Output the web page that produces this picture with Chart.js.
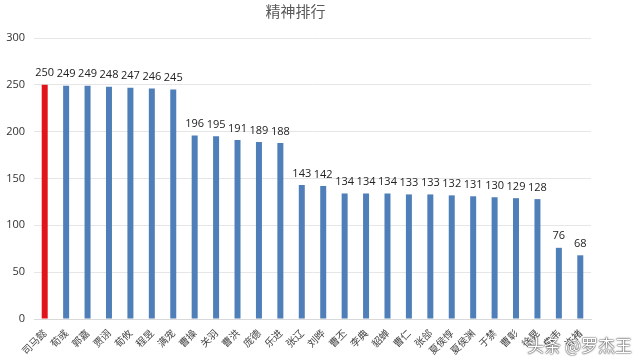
<!DOCTYPE html>
<html>
<head>
<meta charset="utf-8">
<script src="https://cdn.jsdelivr.net/npm/chart.js@4/dist/chart.umd.min.js"></script>
<style>
  html, body { margin: 0; padding: 0; background: #fff; }
  #wrap { position: relative; width: 640px; height: 362px; }
  #mark { position: absolute; right: 8px; bottom: 5px; font: 17px "Noto Sans CJK SC", sans-serif; color: #fff;
          text-shadow: 0 0 2px #333, 0 0 1px #000; }
</style>
</head>
<body>
<div id="wrap">
  <canvas id="chart" width="640" height="362"></canvas>
  <div id="mark">头条 @罗杰王</div>
</div>
<script>
// names and scores
var names = ['司马懿', '荀彧', '郭嘉', '贾诩', '荀攸', '程昱', '满宠', '曹操', '关羽', '曹洪',
             '庞德', '乐进', '张辽', '刘晔', '曹丕', '李典', '貂蝉', '曹仁', '张郃', '夏侯惇',
             '夏侯渊', '于禁', '曹彰', '徐晃', '典韦', '许褚'];
var scores = [250, 249, 249, 248, 247, 246, 245, 196, 195, 191,
              189, 188, 143, 142, 134, 134, 134, 133, 133, 132,
              131, 130, 129, 128, 76, 68];
var yTicks = [0, 50, 100, 150, 200, 250, 300];

var barColors = scores.map(function (v, i) {
    return i === 0 ? '#e3131b' : '#4f7fb8';
});

// value labels above each bar
var valueLabels = {
    id: 'valueLabels',
    afterDatasetsDraw: function (chart) {
        var ctx = chart.ctx;
        var meta = chart.getDatasetMeta(0);
        ctx.save();
        ctx.font = '11px "Open Sans", sans-serif';
        ctx.fillStyle = '#222';
        ctx.textAlign = 'center';
        ctx.textBaseline = 'bottom';
        meta.data.forEach(function (bar, i) {
            ctx.fillText(scores[i], bar.x, bar.y - 6);
        });
        ctx.restore();
    }
};

new Chart(document.getElementById('chart'), {
    type: 'bar',
    data: {
        labels: names,
        datasets: [{
            data: scores,
            backgroundColor: barColors,
            barPercentage: 0.56,
            categoryPercentage: 0.5
        }]
    },
    options: {
        responsive: false,
        animation: false,
        layout: { padding: { left: 0, right: 49, top: 0, bottom: 0 } },
        plugins: {
            legend: { display: false },
            tooltip: { enabled: false },
            title: {
                display: true,
                text: '精神排行',
                color: '#595959',
                font: { family: '"Noto Sans CJK SC", sans-serif', size: 15, weight: 'normal' },
                padding: { top: 2, bottom: 18 }
            }
        },
        scales: {
            x: {
                grid: { display: false },
                border: { color: '#d9d9d9' },
                ticks: {
                    color: '#444',
                    font: { family: '"Noto Sans CJK SC", serif', size: 10 },
                    minRotation: 45,
                    maxRotation: 45,
                    autoSkip: false,
                    padding: 0
                },
                afterFit: function (scale) { scale.height = 43; }
            },
            y: {
                min: 0,
                max: 300,
                afterBuildTicks: function (scale) {
                    scale.ticks = yTicks.map(function (v) { return { value: v }; });
                },
                grid: { color: '#e6e6e6', drawTicks: false, tickLength: 0 },
                border: { display: false },
                ticks: {
                    color: '#333',
                    font: { family: '"Open Sans", sans-serif', size: 11 },
                    padding: 9
                },
                afterFit: function (scale) { scale.width = 34; }
            }
        }
    },
    plugins: [valueLabels]
});
</script>
</body>
</html>
